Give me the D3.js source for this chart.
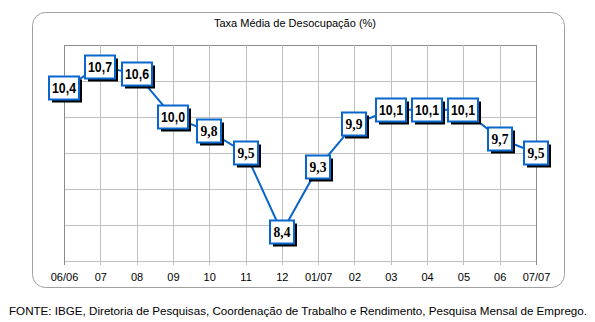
<!DOCTYPE html>
<html><head><meta charset="utf-8">
<script src="https://cdn.jsdelivr.net/npm/d3@7"></script>
<style>body{margin:0;background:#fff}svg{display:block}</style>
</head><body>
<script>
const categories = ["06/06","07","08","09","10","11","12","01/07","02","03","04","05","06","07/07"];
const values = [10.4,10.7,10.6,10.0,9.8,9.5,8.4,9.3,9.9,10.1,10.1,10.1,9.7,9.5];
const yTicks = [8,8.5,9,9.5,10,10.5,11];
const title = "Taxa Média de Desocupação (%)";
const source = "FONTE: IBGE, Diretoria de Pesquisas, Coordenação de Trabalho e Rendimento, Pesquisa Mensal de Emprego.";

const W = 595, H = 322;
const sans = "'Liberation Sans', Arial, sans-serif";
const serif = "'Liberation Serif', 'DejaVu Serif', serif";
const svg = d3.select("body").append("svg").attr("width", W).attr("height", H);
const m = {left: 64, right: 536, top: 45, bottom: 261};

svg.append("rect").attr("x", 32.5).attr("y", 12.5).attr("width", 532).attr("height", 275)
  .attr("rx", 13).attr("fill", "#fff").attr("stroke", "#a0a0a0");

svg.append("text").attr("x", 295).attr("y", 27).attr("text-anchor", "middle")
  .style("font-family", sans).attr("font-size", 11).text(title);

const x = d3.scalePoint().domain(categories).range([m.left, m.right]);
const y = d3.scaleLinear().domain([8, 11]).range([m.bottom, m.top]);

const g = svg.append("g");
g.selectAll("line.h").data(yTicks).join("line")
  .attr("x1", m.left).attr("x2", m.right)
  .attr("y1", d => Math.round(y(d)) + 0.5).attr("y2", d => Math.round(y(d)) + 0.5)
  .attr("stroke", d => d === 11 ? "#8c8c8c" : "#c0c0c0");
g.selectAll("line.v").data(categories).join("line")
  .attr("x1", d => Math.round(x(d)) + 0.5).attr("x2", d => Math.round(x(d)) + 0.5)
  .attr("y1", m.top).attr("y2", m.bottom + 4)
  .attr("stroke", (d, i) => (i === 0 || i === categories.length - 1) ? "#8c8c8c" : "#c0c0c0");

const xAxis = d3.axisBottom(x).tickSize(0).tickPadding(0);
const ax = svg.append("g").attr("transform", `translate(0,${m.bottom + 12})`).call(xAxis);
ax.select(".domain").remove();
ax.selectAll("text").style("font-family", sans).attr("font-size", 11)
  .attr("fill", "#000").attr("dy", "0.71em");

const line = d3.line().x((d, i) => x(categories[i])).y(d => y(d));
svg.append("path").datum(values).attr("d", line).attr("fill", "none")
  .attr("stroke", "#0866cc").attr("stroke-width", 2);

const lbl = svg.selectAll("g.lbl").data(values).join("g")
  .attr("transform", (d, i) => `translate(${Math.round(x(categories[i]))},${Math.round(y(d))})`);
const bw = d => d >= 10 ? 30 : 24, bh = 23;
lbl.append("rect").attr("x", d => -bw(d) / 2 + 3).attr("y", -bh / 2 + 3)
  .attr("width", bw).attr("height", bh).attr("fill", "#000");
lbl.append("rect").attr("x", d => -bw(d) / 2).attr("y", -bh / 2)
  .attr("width", bw).attr("height", bh).attr("fill", "#fff")
  .attr("stroke", "#0866cc").attr("stroke-width", 2);
lbl.append("text").attr("text-anchor", "middle").attr("dy", "0.36em")
  .style("font-weight", "bold")
  .style("font-family", d => d >= 10 ? sans : serif)
  .style("font-size", d => d >= 10 ? "14px" : "15px")
  .attr("textLength", d => d >= 10 ? 24 : 17)
  .attr("lengthAdjust", "spacingAndGlyphs")
  .text(d => d.toFixed(1).replace(".", ","));

svg.append("text").attr("x", 9).attr("y", 315)
  .style("font-family", sans).attr("font-size", 11.5)
  .attr("textLength", 578).attr("lengthAdjust", "spacingAndGlyphs").text(source);
</script>
</body></html>
